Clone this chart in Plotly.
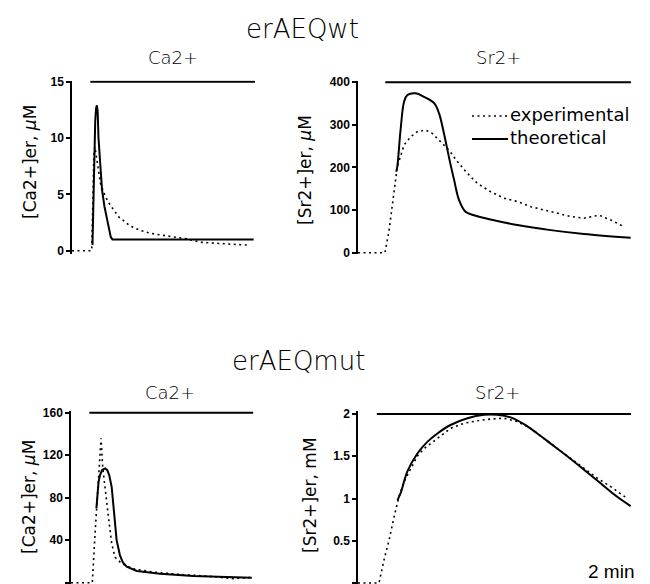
import plotly.graph_objects as go

# ---------------- data (time in minutes) ----------------
# erAEQwt, Ca2+
ca_wt_t_exp = [0, 0.72, 0.76, 0.80, 0.84, 0.92, 1.04, 1.22, 1.40, 1.71, 2.13, 2.50, 2.87, 3.23, 3.72, 4.21, 4.70, 5.19, 5.68, 6.41]
ca_wt_exp = [0, 0, 4, 8.5, 9.2, 7.8, 6.0, 4.8, 4.05, 3.0, 2.2, 1.8, 1.55, 1.4, 1.25, 1.05, 0.75, 0.65, 0.6, 0.5]
ca_wt_t_theo = [0.75, 0.78, 0.82, 0.85, 0.88, 0.91, 0.94, 0.97, 1.04, 1.10, 1.19, 1.28, 1.36, 1.42, 1.48, 6.65]
ca_wt_theo = [0.5, 4, 9, 11.5, 12.6, 12.9, 12.4, 10, 7.5, 5.4, 3.9, 2.7, 1.7, 1.2, 1.0, 1.0]
ca_wt_stim_t = [0.67, 6.7]
ca_wt_stim = [15, 15]

# erAEQwt, Sr2+
sr_wt_t_exp = [0, 0.99, 1.14, 1.26, 1.38, 1.44, 1.69, 1.93, 2.17, 2.48, 2.72, 3.03, 3.33, 3.64, 4.01, 4.37, 4.86, 5.35, 5.84, 6.33, 6.81, 7.30, 7.79, 8.28, 8.83, 9.26, 9.74]
sr_wt_exp = [0, 0, 53, 116, 178, 202, 253, 272, 284, 288, 280, 261, 241, 214, 186, 163, 143, 128, 120, 108, 100, 92, 85, 81, 88, 77, 61]
sr_wt_t_theo = [1.40, 1.44, 1.56, 1.69, 1.81, 2.11, 2.42, 2.79, 2.97, 3.15, 3.33, 3.52, 3.70, 3.94, 4.25, 4.86, 5.84, 7.06, 8.28, 9.99]
sr_wt_theo = [190, 202, 288, 355, 370, 374, 366, 351, 327, 280, 225, 171, 124, 96, 88, 78, 65, 53, 44, 35]
sr_wt_stim_t = [1.0, 10.0]
sr_wt_stim = [400, 400]

# erAEQmut, Ca2+
ca_mut_t_exp = [0, 0.78, 0.88, 0.96, 1.04, 1.10, 1.16, 1.25, 1.37, 1.49, 1.61, 1.86, 2.28, 3.02, 3.87, 5.09, 5.95, 6.62]
ca_mut_exp = [0, 0, 46, 81, 115, 136, 109, 87, 62, 37, 24, 18, 13, 10, 8, 6, 3.8, 5]
ca_mut_t_theo = [0.93, 0.96, 1.01, 1.06, 1.14, 1.25, 1.33, 1.40, 1.49, 1.58, 1.67, 1.79, 1.90, 2.04, 2.41, 3.26, 4.48, 5.70, 6.62]
ca_mut_theo = [70, 84, 95, 101, 106, 107.5, 106, 101, 90, 65, 40, 26, 19, 15, 11, 8.5, 6.3, 5.3, 4.7]
ca_mut_stim_t = [0.67, 6.67]
ca_mut_stim = [160, 160]

# erAEQmut, Sr2+
sr_mut_t_exp = [0, 0.77, 0.95, 1.14, 1.32, 1.50, 1.69, 1.93, 2.17, 2.42, 2.66, 3.03, 3.39, 3.88, 4.37, 4.86, 5.35, 5.84, 6.33, 6.81, 7.30, 7.79, 8.28, 8.77, 9.26, 9.87]
sr_mut_exp = [0, 0, 0.27, 0.51, 0.78, 1.02, 1.20, 1.36, 1.50, 1.59, 1.65, 1.75, 1.83, 1.89, 1.92, 1.94, 1.95, 1.91, 1.83, 1.71, 1.59, 1.48, 1.36, 1.24, 1.14, 1.00]
sr_mut_t_theo = [1.45, 1.50, 1.56, 1.81, 2.17, 2.54, 2.91, 3.39, 4.01, 4.62, 5.10, 5.59, 6.08, 6.57, 7.06, 7.67, 8.28, 8.89, 9.50, 9.99]
sr_mut_theo = [0.98, 1.02, 1.06, 1.32, 1.53, 1.67, 1.77, 1.87, 1.95, 1.99, 1.99, 1.96, 1.88, 1.77, 1.65, 1.50, 1.34, 1.18, 1.02, 0.91]
sr_mut_stim_t = [0.69, 10.0]
sr_mut_stim = [2, 2]

ticks_ca_wt = [0, 5, 10, 15]
ticks_sr_wt = [0, 100, 200, 300, 400]
ticks_ca_mut = [0, 40, 80, 120, 160]
ticks_sr_mut = [0, 0.5, 1, 1.5, 2]
tick_text_sr_mut = ["0", "0.5", "1", "1.5", "2"]

# ---------------- figure ----------------
W, H = 650, 584
fig = go.Figure()

EXP_LINE = dict(color="black", width=1.6, dash="2px,3.5px")
THEO_LINE = dict(color="black", width=2)
STIM_LINE = dict(color="black", width=2)

panels = [
    ("x", "y", ca_wt_t_exp, ca_wt_exp, ca_wt_t_theo, ca_wt_theo, ca_wt_stim_t, ca_wt_stim, "linear"),
    ("x2", "y2", sr_wt_t_exp, sr_wt_exp, sr_wt_t_theo, sr_wt_theo, sr_wt_stim_t, sr_wt_stim, "spline"),
    ("x3", "y3", ca_mut_t_exp, ca_mut_exp, ca_mut_t_theo, ca_mut_theo, ca_mut_stim_t, ca_mut_stim, "linear"),
    ("x4", "y4", sr_mut_t_exp, sr_mut_exp, sr_mut_t_theo, sr_mut_theo, sr_mut_stim_t, sr_mut_stim, "spline"),
]
for xa, ya, te, ve, tt, vt, ts, vs, shape in panels:
    fig.add_trace(go.Scatter(x=ts, y=vs, mode="lines", line=STIM_LINE, xaxis=xa, yaxis=ya,
                             showlegend=False, hoverinfo="skip"))
    fig.add_trace(go.Scatter(x=te, y=ve, mode="lines", line=EXP_LINE, xaxis=xa, yaxis=ya,
                             name="experimental", showlegend=False))
    fig.add_trace(go.Scatter(x=tt, y=vt, mode="lines", line=THEO_LINE, xaxis=xa, yaxis=ya,
                             name="theoretical", showlegend=False, line_shape=shape))

def px_x(p):
    return p / W

def px_y(p):
    return 1 - p / H

tickfont = dict(family="Liberation Sans, Arial, sans-serif", size=12, color="black", weight="bold")

def yax(domain, rng, tickvals, anchor, ticktext=None):
    d = dict(domain=domain, range=rng, tickvals=tickvals, showline=True, linecolor="black",
             linewidth=1.5, ticks="outside", ticklen=4, tickwidth=1.5, tickcolor="black",
             showgrid=False, zeroline=False, tickfont=tickfont, anchor=anchor, automargin=False,
             fixedrange=True)
    if ticktext is not None:
        d["ticktext"] = ticktext
    return d

def xax(domain, rng, anchor):
    return dict(domain=domain, range=rng, visible=False, anchor=anchor, fixedrange=True)

top_dom = [px_y(254), px_y(80.5)]
bot_dom = [0.0, px_y(411)]

fig.update_layout(
    width=W, height=H,
    margin=dict(l=0, r=0, t=0, b=0),
    paper_bgcolor="white", plot_bgcolor="white",
    showlegend=False,
    xaxis=xax([px_x(72), px_x(255)], [0, 6.7], "y"),
    xaxis2=xax([px_x(358), px_x(632)], [0, 10.04], "y2"),
    xaxis3=xax([px_x(71), px_x(254)], [0, 6.7], "y3"),
    xaxis4=xax([px_x(358), px_x(632)], [0, 10.04], "y4"),
    yaxis=yax(top_dom, [-0.293, 15.107], ticks_ca_wt, "x"),
    yaxis2=yax(top_dom, [-3.05, 404.2], ticks_sr_wt, "x2"),
    yaxis3=yax(bot_dom, [-1.22, 161.6], ticks_ca_mut, "x3"),
    yaxis4=yax(bot_dom, [-0.0118, 2.0355], ticks_sr_mut, "x4", tick_text_sr_mut),
)

FAM = "DejaVu Sans, sans-serif"
title_font = dict(family=FAM, size=26, color="black", weight=200)
sub_font = dict(family=FAM, size=18, color="black", weight=200)
lab_font = dict(family=FAM, size=17, color="black")
leg_font = dict(family=FAM, size=18, color="black")

ann = [
    ("erAEQwt", 302, 29, title_font, 0),
    ("erAEQmut", 298, 361, title_font, 0),
    ("Ca2+", 173, 58, sub_font, 0),
    ("Sr2+", 498, 58, sub_font, 0),
    ("Ca2+", 170, 392, sub_font, 0),
    ("Sr2+", 497, 392, sub_font, 0),
    ("[Ca2+]er, <i>μ</i>M", 30, 162, lab_font, -90),
    ("[Sr2+]er, <i>μ</i>M", 305, 170, lab_font, -90),
    ("[Ca2+]er, <i>μ</i>M", 29, 497, lab_font, -90),
    ("[Sr2+]er, mM", 310, 495, lab_font, -90),
]
for text, x, y, font, ang in ann:
    fig.add_annotation(text=text, x=px_x(x), y=px_y(y), xref="paper", yref="paper",
                       xanchor="center", yanchor="middle", showarrow=False, font=font,
                       textangle=ang)

# legend (drawn manually)
LEG_Y1, LEG_Y2 = 116, 139
fig.add_shape(type="line", xref="paper", yref="paper", x0=px_x(472), x1=px_x(508),
              y0=px_y(LEG_Y1), y1=px_y(LEG_Y1), line=EXP_LINE)
fig.add_shape(type="line", xref="paper", yref="paper", x0=px_x(472), x1=px_x(508),
              y0=px_y(LEG_Y2), y1=px_y(LEG_Y2), line=THEO_LINE)
fig.add_annotation(text="experimental", x=px_x(508), y=px_y(LEG_Y1 - 1), xref="paper", yref="paper",
                   xanchor="left", yanchor="middle", showarrow=False, font=leg_font)
fig.add_annotation(text="theoretical", x=px_x(508), y=px_y(LEG_Y2 - 1), xref="paper", yref="paper",
                   xanchor="left", yanchor="middle", showarrow=False, font=leg_font)

# scale bar label
fig.add_annotation(text="2 min", x=px_x(611), y=px_y(571), xref="paper", yref="paper",
                   xanchor="center", yanchor="middle", showarrow=False,
                   font=dict(family="Liberation Sans, Arial, sans-serif", size=19, color="black"))

fig.write_html("out.html")
